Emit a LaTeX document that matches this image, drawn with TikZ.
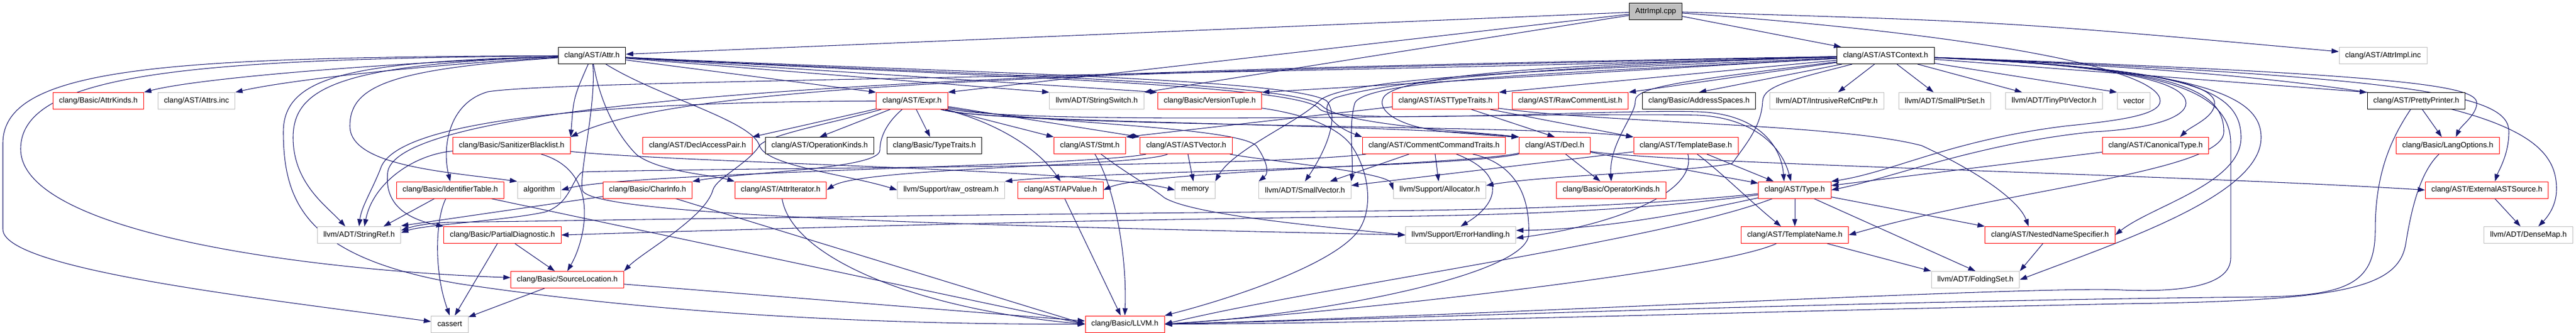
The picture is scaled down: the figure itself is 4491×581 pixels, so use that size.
\documentclass[tikz,border=0pt]{standalone}
\usepackage{fontspec}
\setmainfont{Liberation Sans}
\usetikzlibrary{arrows.meta}
\pgfdeclarelayer{bg}
\pgfdeclarelayer{edges}
\pgfsetlayers{bg,edges,main}
\definecolor{edgecol}{HTML}{191970}
\definecolor{grey75}{HTML}{BFBFBF}
\begin{document}
\begin{tikzpicture}[x=0.75pt,y=-0.75pt,
  nd/.style={rectangle, fill=white, font=\fontsize{10}{12}\selectfont, inner xsep=7.92pt, inner ysep=0pt, minimum height=21.75pt, line width=0.75pt},
  rednd/.style={nd, draw=red},
  graynd/.style={nd, draw=grey75},
  blknd/.style={nd, draw=black},
  rootnd/.style={nd, draw=black, fill=grey75},
  e/.style={draw=edgecol, line width=0.8pt, -{Triangle[length=9.5pt,width=6.5pt]}}]
\useasboundingbox (0,0) rectangle (4491,581);
\begin{pgfonlayer}{bg}
\fill[white] (0,0) rectangle (4491,581);
\end{pgfonlayer}
% ---------- nodes ----------
\node[rootnd] (impl) at (2886.5,19.6) {AttrImpl.cpp};
\node[blknd] (attr) at (1032,97) {clang/AST/Attr.h};
\node[blknd] (astctx) at (3287.5,97) {clang/AST/ASTContext.h};
\node[graynd] (implinc) at (4154.5,97) {clang/AST/AttrImpl.inc};
\node[rednd] (attrkinds) at (171.5,176) {clang/Basic/AttrKinds.h};
\node[graynd] (attrsinc) at (342.5,176) {clang/AST/Attrs.inc};
\node[rednd] (expr) at (1590,176) {clang/AST/Expr.h};
\node[graynd] (strswitch) at (1912,176) {llvm/ADT/StringSwitch.h};
\node[rednd] (version) at (2109,176) {clang/Basic/VersionTuple.h};
\node[rednd] (asttt) at (2520,176) {clang/AST/ASTTypeTraits.h};
\node[rednd] (rawcl) at (2737.5,176) {clang/AST/RawCommentList.h};
\node[blknd] (addrsp) at (2962,176) {clang/Basic/AddressSpaces.h};
\node[graynd] (intrusive) at (3185,176) {llvm/ADT/IntrusiveRefCntPtr.h};
\node[graynd] (smallptr) at (3390.5,176) {llvm/ADT/SmallPtrSet.h};
\node[graynd] (tinyptr) at (3581,176) {llvm/ADT/TinyPtrVector.h};
\node[graynd] (vector) at (3720,176) {vector};
\node[blknd] (pretty) at (4212.5,176) {clang/AST/PrettyPrinter.h};
\node[rednd] (sanit) at (892,254) {clang/Basic/SanitizerBlacklist.h};
\node[rednd] (declap) at (1216,254) {clang/AST/DeclAccessPair.h};
\node[blknd] (opkinds) at (1429,254) {clang/AST/OperationKinds.h};
\node[blknd] (typetraits) at (1629,254) {clang/Basic/TypeTraits.h};
\node[rednd] (stmt) at (1900,254) {clang/AST/Stmt.h};
\node[rednd] (astvec) at (2068,254) {clang/AST/ASTVector.h};
\node[rednd] (cct) at (2500,254) {clang/AST/CommentCommandTraits.h};
\node[rednd] (decl) at (2710.5,254) {clang/AST/Decl.h};
\node[rednd] (tbase) at (2939,254) {clang/AST/TemplateBase.h};
\node[rednd] (canon) at (3758,254) {clang/AST/CanonicalType.h};
\node[rednd] (langopt) at (4267.5,254) {clang/Basic/LangOptions.h};
\node[rednd] (identt) at (785,331.5) {clang/Basic/IdentifierTable.h};
\node[graynd] (algorithm) at (940,331.5) {algorithm};
\node[rednd] (charinfo) at (1129,331.5) {clang/Basic/CharInfo.h};
\node[rednd] (attrit) at (1361,331.5) {clang/AST/AttrIterator.h};
\node[graynd] (rawos) at (1658,331.5) {llvm/Support/raw\_ostream.h};
\node[rednd] (apvalue) at (1849,331.5) {clang/AST/APValue.h};
\node[graynd] (memory) at (2083.5,331.5) {memory};
\node[graynd] (smallvec) at (2275,331.5) {llvm/ADT/SmallVector.h};
\node[graynd] (alloc) at (2510,331.5) {llvm/Support/Allocator.h};
\node[rednd] (opk) at (2809,331.5) {clang/Basic/OperatorKinds.h};
\node[rednd] (type) at (3129,331.5) {clang/AST/Type.h};
\node[rednd] (extsrc) at (4335.6,331.5) {clang/AST/ExternalASTSource.h};
\node[graynd] (strref) at (626,410) {llvm/ADT/StringRef.h};
\node[rednd] (pdiag) at (876,410) {clang/Basic/PartialDiagnostic.h};
\node[graynd] (errh) at (2546.5,410) {llvm/Support/ErrorHandling.h};
\node[rednd] (tname) at (3129,410) {clang/AST/TemplateName.h};
\node[rednd] (nns) at (3574,410) {clang/AST/NestedNameSpecifier.h};
\node[graynd] (densemap) at (4408,410) {llvm/ADT/DenseMap.h};
\node[rednd] (srcloc) at (989,488) {clang/Basic/SourceLocation.h};
\node[graynd] (folding) at (3444,488) {llvm/ADT/FoldingSet.h};
\node[graynd] (cassert) at (784,565.5) {cassert};
\node[rednd] (llvmh) at (1961,565.5) {clang/Basic/LLVM.h};
% ---------- edges ----------
\begin{pgfonlayer}{edges}
% AttrImpl.cpp
\draw[e] (impl) -- (attr);
\draw[e] (impl) -- (expr.north east);
\draw[e] (impl) -- (strswitch.north east);
\draw[e] (impl) -- (astctx);
\draw[e] (impl) .. controls (3500,38) .. (implinc);
\draw[e] (impl) .. controls (3450,60) and (3766,120) .. (3766,176) .. controls (3766,200) and (3700,210) .. (3600,220) .. controls (3400,245) and (3300,300) .. (type.north east);
% Attr.h
\draw[e] (attr) .. controls (700,108) and (350,135) .. (attrkinds.north east);
\draw[e] (attr) .. controls (750,112) and (500,140) .. (attrsinc.north east);
\draw[e] (attr) .. controls (300,100) and (5,115) .. (5,250) -- (5,400) .. controls (5,470) and (450,520) .. (cassert);
\draw[e] (attr) .. controls (350,103) and (36,125) .. (36,260) .. controls (36,400) and (500,470) .. (srcloc);
\draw[e] (attr) .. controls (620,108) and (494,130) .. (494,230) .. controls (494,360) and (540,450) .. (800,495) .. controls (1200,555) and (1600,566) .. (llvmh);
\draw[e] (attr) .. controls (600,112) and (511,150) .. (511,240) .. controls (511,320) and (570,360) .. ([xshift=-18pt]strref.north);
\draw[e] (attr) .. controls (680,120) and (610,150) .. (610,220) .. controls (610,290) and (780,300) .. (algorithm.north west);
\draw[e] (attr) -- (expr.north west);
\draw[e] (attr) -- (strswitch.north west);
\draw[e] (attr) -- (version.north west);
\draw[e] (attr) .. controls (1000,170) .. (sanit.north east);
\draw[e] (attr) .. controls (1050,200) and (1090,250) .. (1110,270) .. controls (1150,300) and (1240,305) .. (attrit.north west);
\draw[e] (attr) .. controls (1150,170) and (1310,210) .. (1324,254) .. controls (1335,290) and (1480,305) .. (rawos.west);
\draw[e] (attr) .. controls (1040,180) and (1010,300) .. (1015,331) .. controls (1020,380) and (1800,395) .. (errh.west);
\draw[e] (attr) .. controls (1600,125) and (2250,135) .. (2313,176) .. controls (2340,210) and (2300,280) .. (smallvec.north);
\draw[e] (attr) .. controls (1600,128) and (2260,140) .. (2305,185) .. controls (2340,218) and (2550,228) .. (decl.north west);
\draw[e] (attr) .. controls (1600,130) and (2270,145) .. (2300,190) .. controls (2330,220) and (2800,190) .. (2960,195) .. controls (3060,198) and (3105,250) .. ([xshift=-14pt]type.north);
% Expr.h
\draw[e] (expr) -- (typetraits);
\draw[e] (expr) -- (stmt.north west);
\draw[e] (expr) -- (astvec.north west);
\draw[e] (expr) .. controls (1740,215) and (1810,260) .. (apvalue.north);
\draw[e] (expr) -- (opkinds.north);
\draw[e] (expr) -- (declap.north east);
\draw[e] (expr) .. controls (1545,215) and (1534,240) .. (1534,262) .. controls (1534,295) and (1300,300) .. (charinfo.north east);
\draw[e] (expr) .. controls (1720,215) and (2400,215) .. (decl.north west);
\draw[e] (expr) .. controls (1750,222) and (2700,218) .. (tbase.north west);
\draw[e] (expr) .. controls (1800,222) and (2700,195) .. (2960,201) .. controls (3050,205) and (3105,250) .. ([xshift=-5pt]type.north);
\draw[e] (expr) .. controls (1800,215) and (2150,220) .. (2190,254) .. controls (2205,275) and (2215,300) .. (smallvec.north west);
\draw[e] (expr) .. controls (1000,178) and (700,215) .. (665,290) .. controls (650,330) and (630,360) .. (strref.north);
\draw[e] (expr) .. controls (1450,215) and (1340,235) .. (1324,254) .. controls (1305,285) and (1250,310) .. (1243,331) .. controls (1230,380) and (1120,440) .. (srcloc.north east);
% Stmt.h
\draw[e] (stmt) .. controls (1945,330) and (1965,450) .. (llvmh.north);
\draw[e] (stmt) .. controls (1960,300) and (2005,325) .. (2030,345) .. controls (2080,375) and (2300,395) .. (errh.west);
% ASTVector.h
\draw[e] (astvec) -- (memory);
\draw[e] (astvec) .. controls (1990,290) and (1500,292) .. (attrit.east);
\draw[e] (astvec) .. controls (2200,280) and (2420,300) .. (alloc.west);
\draw[e] (astvec) .. controls (1900,290) and (1100,300) .. (algorithm.east);
% SanitizerBlacklist.h
\draw[e] (sanit) .. controls (1050,300) and (1020,420) .. (srcloc.north);
\draw[e] (sanit) .. controls (720,270) and (650,320) .. ([xshift=7pt]strref.north);
\draw[e] (sanit) .. controls (1200,285) and (1900,295) .. (memory.west);
% IdentifierTable.h
\draw[e] (identt) -- ([xshift=32pt]strref.north);
\draw[e] (identt) .. controls (760,380) and (755,470) .. (cassert.north);
\draw[e] (identt) -- (llvmh.west);
% PartialDiagnostic.h
\draw[e] (pdiag) -- (srcloc);
\draw[e] (pdiag) -- (cassert);
% CharInfo.h, AttrIterator.h, APValue.h
\draw[e] (charinfo) -- ([yshift=12pt]strref.east);
\draw[e] (charinfo) -- (llvmh.west);
\draw[e] (attrit) .. controls (1380,450) and (1600,540) .. (llvmh.west);
\draw[e] (apvalue) -- (llvmh);
% SourceLocation.h
\draw[e] (srcloc) -- (cassert);
\draw[e] (srcloc) -- (llvmh);
% VersionTuple.h
\draw[e] (version) .. controls (2280,200) and (2340,225) .. (2360,260) .. controls (2385,300) and (2395,360) .. (2370,400) .. controls (2330,460) and (2150,520) .. (llvmh.north east);
% CommentCommandTraits.h
\draw[e] (cct) -- (smallvec);
\draw[e] (cct) -- (alloc);
\draw[e] (cct) .. controls (2620,300) and (2620,350) .. (errh.north);
\draw[e] (cct) .. controls (2640,285) and (2668,340) .. (2665,410) .. controls (2660,480) and (2300,550) .. (llvmh.east);
\draw[e] (cct) .. controls (2200,292) and (1300,292) .. (1015,300) .. controls (995,315) and (995,355) .. (950,370) .. controls (880,385) and (740,392) .. ([yshift=3pt]strref.east);
% Decl.h
\draw[e] (decl) .. controls (2550,288) and (2000,298) .. (apvalue.east);
\draw[e] (decl) -- (opk);
\draw[e] (decl) .. controls (2900,285) and (3800,305) .. (extsrc.west);
\draw[e] (decl) -- (type);
\draw[e] (decl) .. controls (2550,292) and (1900,300) .. (rawos.north east);
% TemplateBase.h
\draw[e] (tbase) -- (type);
\draw[e] (tbase) .. controls (3000,300) and (3050,350) .. ([xshift=-18pt]tname.north);
\draw[e] (tbase) .. controls (2960,340) and (2800,395) .. ([yshift=-4pt]errh.east);
\draw[e] (tbase) -- ([yshift=6pt]smallvec.east);
% ASTTypeTraits.h
\draw[e] (asttt) -- (decl.north);
\draw[e] (asttt) -- (tbase.north west);
\draw[e] (asttt) .. controls (2800,215) and (3200,215) .. (3350,254) .. controls (3450,300) and (3520,350) .. ([xshift=-28pt]nns.north);
\draw[e] (asttt) -- (stmt.north east);
% Type.h
\draw[e] (type) -- (tname);
\draw[e] (type) -- (nns.north west);
\draw[e] (type) -- (folding.north);
\draw[e] (type) .. controls (2900,420) and (2300,500) .. (llvmh.east);
\draw[e] (type) .. controls (2900,362) and (2700,375) .. (2400,378) .. controls (1800,384) and (1150,405) .. (pdiag.east);
\draw[e] (type) .. controls (2900,355) and (2700,365) .. (2400,368) .. controls (1600,375) and (1000,385) .. (780,388) .. controls (740,390) and (720,395) .. ([yshift=6pt]strref.east);
\draw[e] (type) .. controls (2950,370) and (2800,400) .. ([yshift=6pt]errh.east);
% TemplateName.h, NestedNameSpecifier.h
\draw[e] (tname) -- (folding.north west);
\draw[e] (tname) .. controls (3000,470) and (2400,540) .. (llvmh.east);
\draw[e] (nns) -- (folding.north east);
% CanonicalType.h, PrettyPrinter.h, LangOptions.h, ExternalASTSource.h
\draw[e] (canon) -- (type);
\draw[e] (pretty) -- (langopt);
\draw[e] (pretty) .. controls (4170,240) and (4141,300) .. (4141,400) .. controls (4141,490) and (4100,515) .. (3950,518) .. controls (3200,525) and (2400,558) .. (llvmh.east);
\draw[e] (langopt) .. controls (4220,300) and (4205,360) .. (4195,420) .. controls (4185,500) and (4100,525) .. (3700,530) .. controls (3000,545) and (2400,565) .. (llvmh.east);
\draw[e] (extsrc) -- (densemap);
% ASTContext.h
\draw[e] (astctx) -- (asttt.north east);
\draw[e] (astctx) -- (rawcl.north east);
\draw[e] (astctx) -- (addrsp.north);
\draw[e] (astctx) -- (intrusive);
\draw[e] (astctx) -- (smallptr);
\draw[e] (astctx) -- (tinyptr);
\draw[e] (astctx) -- (vector.north west);
\draw[e] (astctx) -- (pretty.north west);
\draw[e] (astctx) -- (version.north east);
\draw[e] (astctx) .. controls (2000,125) and (1200,140) .. (sanit.north east);
\draw[e] (astctx) .. controls (2000,135) and (980,140) .. (851,160) .. controls (780,180) and (771,260) .. (identt.north);
\draw[e] (astctx) .. controls (2000,120) and (700,150) .. (676,300) .. controls (670,350) and (700,380) .. (pdiag.north west);
\draw[e] (astctx) .. controls (2700,115) and (2430,140) .. (2330,170) .. controls (2300,180) and (2310,215) .. (cct.north west);
\draw[e] (astctx) .. controls (2800,110) and (2440,125) .. (2412,170) .. controls (2400,190) and (2430,220) .. (2520,230) .. controls (2580,235) and (2620,238) .. (decl.north west);
\draw[e] (astctx) .. controls (2950,140) and (2850,150) .. (2851,176) .. controls (2852,200) and (2805,250) .. (opk.north);
\draw[e] (astctx) .. controls (2800,120) and (2350,130) .. (2300,176) .. controls (2270,210) and (2150,260) .. (memory.north east);
\draw[e] (astctx) .. controls (2800,125) and (2380,135) .. (2362,180) .. controls (2350,220) and (2360,280) .. (smallvec.north east);
\draw[e] (astctx) .. controls (3120,140) and (3075,150) .. (3073,176) .. controls (3071,220) and (3045,250) .. (3020,285) .. controls (2950,300) and (2700,305) .. ([yshift=6pt]alloc.east);
\draw[e] (astctx) .. controls (3600,110) and (3811,130) .. (3811,180) .. controls (3811,205) and (3750,225) .. (3650,230) .. controls (3450,250) and (3300,310) .. (type.east);
\draw[e] (astctx) .. controls (3700,115) and (3861,140) .. (3861,180) .. controls (3861,205) and (3820,220) .. ([xshift=32pt]canon.north);
\draw[e] (astctx) .. controls (3780,118) and (3877,150) .. (3877,230) .. controls (3877,300) and (3500,330) .. (tname.east);
\draw[e] (astctx) .. controls (3750,115) and (3889,150) .. (3889,250) -- (3889,450) .. controls (3889,500) and (3800,510) .. (3700,506) .. controls (3550,498) and (2600,550) .. (llvmh.east);
\draw[e] (astctx) .. controls (3800,120) and (3907,150) .. (3907,240) .. controls (3907,320) and (3750,360) .. (nns.east);
\draw[e] (astctx) .. controls (3850,120) and (3942,170) .. (3942,240) .. controls (3942,340) and (3700,420) .. (folding.east);
\draw[e] (astctx) .. controls (4200,130) and (4318,150) .. (4318,180) .. controls (4318,200) and (4290,220) .. ([xshift=10.5pt]langopt.north);
\draw[e] (astctx) .. controls (4250,135) and (4374,170) .. (4374,230) .. controls (4374,270) and (4355,300) .. ([xshift=10.5pt]extsrc.north);
\draw[e] (astctx) .. controls (4350,140) and (4457,230) .. (4457,330) .. controls (4457,360) and (4440,380) .. ([xshift=13pt]densemap.north);
\end{pgfonlayer}
\end{tikzpicture}
\end{document}
